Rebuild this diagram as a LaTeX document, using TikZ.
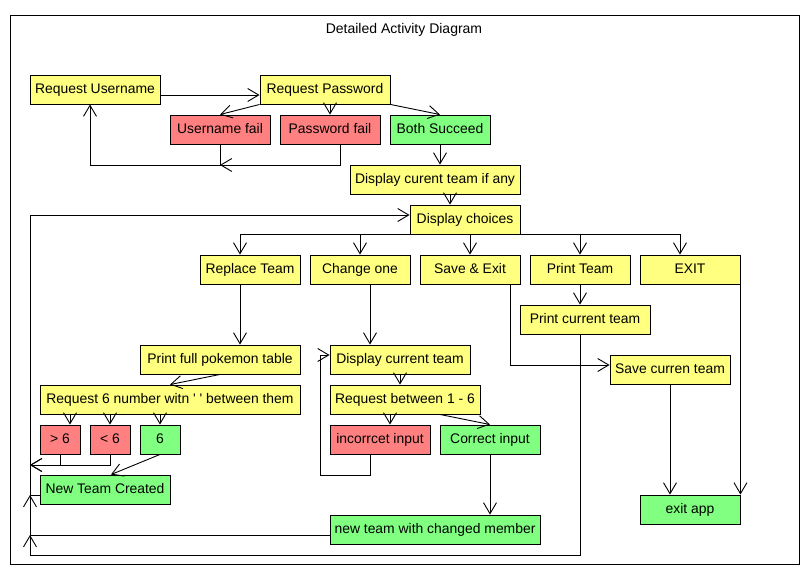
\documentclass[tikz,border=0pt]{standalone}
\usepackage{fontspec}
\setmainfont{Liberation Sans}
\usetikzlibrary{arrows.meta}
\definecolor{boxyellow}{RGB}{255,255,128}
\definecolor{boxred}{RGB}{255,128,128}
\definecolor{boxgreen}{RGB}{128,255,128}
\begin{document}
\begin{tikzpicture}[x=1pt,y=-1pt,
  box/.style={draw=black,line width=0.9pt,inner sep=0pt,minimum height=29pt,
    font=\fontsize{13.9}{16}\selectfont,text height=10pt,text depth=3pt,align=center},
  ybox/.style={box,fill=boxyellow},
  rbox/.style={box,fill=boxred},
  gbox/.style={box,fill=boxgreen},
  conn/.style={draw=black,line width=0.9pt},
  arr/.style={conn,-{Straight Barb[length=11pt,width=13pt]}}]
\useasboundingbox (0,0) rectangle (807,584);
\draw[line width=1pt] (10.5,15.5) rectangle (799.5,564.5);
\node[inner sep=0pt,font=\fontsize{14}{16}\selectfont] (title) at (404,30) {Detailed Activity Diagram};

% nodes
\node[ybox,minimum width=130pt] (ru) at (95,89.5) {Request Username};
\node[ybox,minimum width=130pt] (rp) at (325,89.5) {Request Password};
\node[rbox,minimum width=100pt] (uf) at (220,129.5) {Username fail};
\node[rbox,minimum width=100pt] (pf) at (330,129.5) {Password fail};
\node[gbox,minimum width=100pt] (bs) at (440,129.5) {Both Succeed};
\node[ybox,minimum width=170pt] (dcta) at (435,179.5) {Display curent team if any};
\node[ybox,minimum width=110pt] (dc) at (465,219.5) {Display choices};
\node[ybox,minimum width=100pt] (rt) at (250,269.5) {Replace Team};
\node[ybox,minimum width=100pt] (co) at (360,269.5) {Change one};
\node[ybox,minimum width=100pt] (se) at (470,269.5) {Save \& Exit};
\node[ybox,minimum width=100pt] (pt) at (580,269.5) {Print Team};
\node[ybox,minimum width=100pt] (ex) at (690,269.5) {EXIT};
\node[ybox,minimum width=130pt] (pct) at (585,319.5) {Print current team};
\node[ybox,minimum width=160pt] (pfpt) at (220,359.5) {Print full pokemon table};
\node[ybox,minimum width=140pt] (dct) at (400,359.5) {Display current team};
\node[ybox,minimum width=120pt] (sct) at (670,369.5) {Save curren team};
\node[ybox,minimum width=260pt] (rsix) at (170,399.5) {Request 6 number witn \textquotesingle{} \textquotesingle{} between them};
\node[ybox,minimum width=150pt] (rbt) at (405,399.5) {Request between 1 - 6};
\node[rbox,minimum width=40pt] (gt) at (60,439.5) {> 6};
\node[rbox,minimum width=40pt] (lt) at (110,439.5) {< 6};
\node[gbox,minimum width=40pt] (six) at (160,439.5) {6};
\node[rbox,minimum width=100pt] (ii) at (380,439.5) {incorrcet input};
\node[gbox,minimum width=100pt] (ci) at (490,439.5) {Correct input};
\node[gbox,minimum width=130pt] (ntc) at (105,489.5) {New Team Created};
\node[gbox,minimum width=100pt] (ea) at (690,509.5) {exit app};
\node[gbox,minimum width=210pt] (ntcm) at (435,529.5) {new team with changed member};

% helper coordinates
\coordinate (c1) at (0,95);
\coordinate (lpA) at (90,165);
\coordinate (pfx) at (340,0);
\coordinate (dx) at (450,0);
\coordinate (rtx) at (240,0);
\coordinate (exx) at (680,0);
\coordinate (gx) at (70,0);
\coordinate (mA) at (30,465);
\coordinate (ntx) at (111,0);
\coordinate (mB) at (30,495);
\coordinate (mB2) at (30,507);
\coordinate (mC) at (30,535);
\coordinate (mC2) at (30,547);
\coordinate (lb) at (30,555);
\coordinate (ltp) at (30,215);
\coordinate (cox) at (370,0);
\coordinate (sex) at (510,365);
\coordinate (rbx) at (390,0);
\coordinate (rcx) at (440,0);
\coordinate (iA) at (320,475);
\coordinate (iB) at (320,355);

% connectors
\draw[arr] (ru.east |- c1) -- (rp.west |- c1);
\draw[arr] (rp.south west) -- (uf.north);
\draw[arr] (pf.north |- rp.south) -- (pf.north);
\draw[arr] (rp.south east) -- (bs.north);
\draw[arr] (uf.south) |- (lpA) -- (lpA |- ru.south);
\draw[arr] (pfx |- pf.south) |- (uf.south |- lpA);
\draw[arr] (bs.south) -- (bs.south |- dcta.north);
\draw[arr] (dx |- dcta.south) -- (dx |- dc.north);

\draw[arr] (dc.south) -| (rtx |- rt.north);
\draw[arr] (dc.south) -| (co.north);
\draw[arr] (dc.south) -| (se.north);
\draw[arr] (dc.south) -| (pt.north);
\draw[arr] (dc.south) -| (exx |- ex.north);

\draw[arr] (rtx |- rt.south) -- (rtx |- pfpt.north);
\draw[arr] (pfpt.south) -- (rsix.north);
\draw[arr] (gx |- rsix.south) -- (gx |- gt.north);
\draw[arr] (lt.north |- rsix.south) -- (lt.north);
\draw[arr] (six.north |- rsix.south) -- (six.north);
\draw[arr] (gt.south) |- (mA);
\draw[arr] (lt.south) |- (mA);
\draw[arr] (six.south) -- (ntx |- ntc.north);
\draw[conn] (ntc.west |- mB) -- (mB);
\draw[arr] (mB2) -- (mB);
\draw[conn] (ntcm.west |- mC) -- (mC);
\draw[arr] (mC2) -- (mC);
\draw[arr] (pt.south |- pct.south) |- (lb) -- (ltp) -- (dc.west |- ltp);
\draw[arr] (pt.south) -- (pt.south |- pct.north);

\draw[arr] (cox |- co.south) -- (cox |- dct.north);
\draw[arr] (sex |- se.south) -- (sex) -- (sex -| sct.west);
\draw[arr] (ex.south east) -- (ex.south east |- ea.north);
\draw[arr] (sct.south) -- (sct.south |- ea.north);
\draw[arr] (dct.south) -- (dct.south |- rbt.north);
\draw[arr] (rbx |- rbt.south) -- (rbx |- ii.north);
\draw[arr] (rcx |- rbt.south) -- (ci.north);
\draw[arr] (cox |- ii.south) |- (iA) -- (iB) -- (dct.west |- iB);
\draw[arr] (ci.south) -- (ci.south |- ntcm.north);
\end{tikzpicture}
\end{document}
